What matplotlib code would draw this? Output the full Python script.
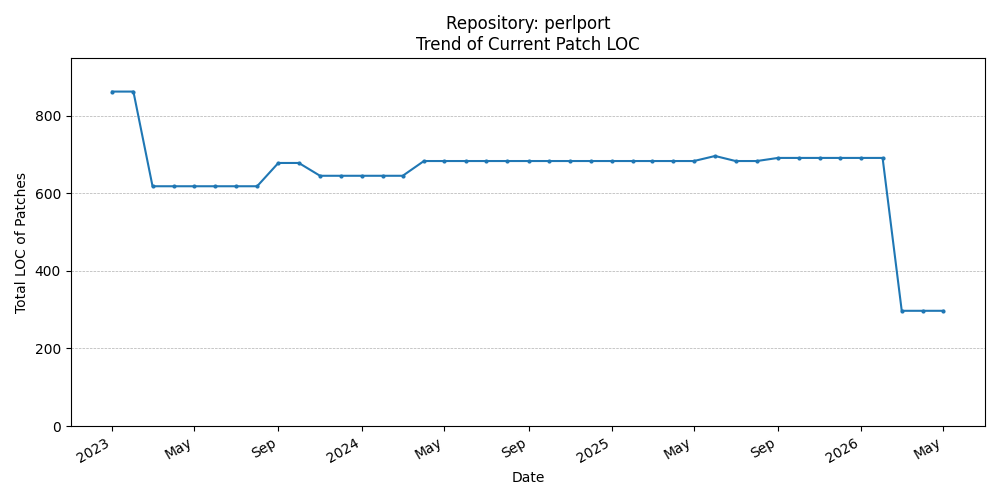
import pandas as pd
import matplotlib
matplotlib.use("Agg")
import matplotlib.pyplot as plt
import matplotlib.dates as mdates

# monthly snapshots, Jan 2023 - May 2026
dates = pd.date_range("2023-01-01", "2026-05-01", freq="MS")
loc_values = [
    862, 862,                          # 2023 Jan-Feb
    618, 618, 618, 618, 618, 618,      # 2023 Mar-Aug
    678, 678,                          # 2023 Sep-Oct
    645, 645, 645, 645, 645,           # 2023 Nov - 2024 Mar
    683, 683, 683, 683, 683, 683, 683, # 2024 Apr-Oct
    683, 683, 683, 683, 683, 683, 683, # 2024 Nov - 2025 May
    696,                               # 2025 Jun
    683, 683,                          # 2025 Jul-Aug
    691, 691, 691, 691, 691, 691,      # 2025 Sep - 2026 Feb
    297, 297, 297,                     # 2026 Mar-May
]

fig, ax = plt.subplots(figsize=(10, 5), dpi=100)
ax.plot(dates, loc_values, marker='o', markersize=2, color='#1f77b4')
ax.set_title('Repository: perlport\nTrend of Current Patch LOC')
ax.set_xlabel('Date')
ax.set_ylabel('Total LOC of Patches')
ax.set_ylim(0, max(loc_values) * 1.1)
ax.grid(axis='y', linestyle='--', linewidth=0.5)

locator = mdates.AutoDateLocator()
ax.xaxis.set_major_locator(locator)
ax.xaxis.set_major_formatter(mdates.ConciseDateFormatter(locator))
fig.autofmt_xdate()

plt.tight_layout()
plt.savefig('out.png')
